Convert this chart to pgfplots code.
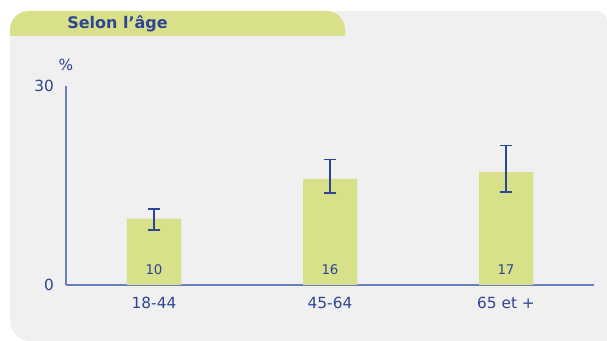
\documentclass[border=0pt]{standalone}
\usepackage{fontspec}
\setmainfont{DejaVu Sans}
\usepackage{pgfplots}
\pgfplotsset{compat=1.18}

\definecolor{bargreen}{HTML}{D8E08A}
\definecolor{txtblue}{HTML}{2D4594}
\definecolor{axblue}{HTML}{6A7FBF}
\definecolor{panel}{HTML}{F0F0F0}

\begin{document}
\begin{tikzpicture}
% background, in pixel units of the reference (y downwards)
\begin{scope}[x=0.75pt, y=-0.75pt]
  \path[use as bounding box, fill=white] (0,0) rectangle (607,341);
  \fill[panel] (10,30) [rounded corners=15pt] -- (10,341) [sharp corners] -- (607,341) [rounded corners=8pt] -- (607,11) [sharp corners] -- (200,11) -- (200,30) -- cycle;
  \fill[bargreen] (10,36) [rounded corners=14pt] -- (10,11) -- (345,11) [sharp corners] -- (345,36) -- cycle;
  \node[anchor=base west, inner sep=0pt, text=txtblue, font=\fontsize{12}{14}\selectfont\bfseries] at (67,29) {Selon l’âge};
\end{scope}

\begin{axis}[
    at={(49.5pt,-213.75pt)}, anchor=south west,
    scale only axis,
    width=396pt, height=149.25pt,
    xmin=-0.5, xmax=2.5,
    ymin=0, ymax=30,
    axis x line=bottom, axis y line=left,
    axis line style={-, axblue, line width=0.9pt},
    xtick=data,
    xticklabels={18-44, 45-64, 65 et +},
    ytick={0,30},
    major tick length=0pt,
    tick label style={text=txtblue, font=\fontsize{11.5}{13}\selectfont},
    /pgf/number format/assume math mode=true,
    xticklabel style={yshift=-5.5pt},
    yticklabel style={xshift=-5.5pt},
    clip=false,
]
\addplot[ybar, bar width=40.5pt, fill=bargreen, draw=none,
    error bars/.cd, y dir=both, y explicit,
    error bar style={txtblue, line width=1.4pt},
    error mark options={rotate=90, mark size=4.75pt, txtblue, line width=1.2pt}]
  coordinates {
    (0,10) += (0,1.5) -= (0,1.7)
    (1,16) += (0,2.9) -= (0,2.1)
    (2,17) += (0,4.0) -= (0,3.0)
};
\addplot[draw=none, mark=none, nodes near coords, point meta=explicit symbolic,
    every node near coord/.style={anchor=center, text=txtblue, font=\fontsize{10}{12}\selectfont}]
  coordinates {
    (0,2.3) [10]
    (1,2.3) [16]
    (2,2.3) [17]
};
\node[anchor=south, text=txtblue, font=\fontsize{11.5}{13}\selectfont, inner sep=0pt] at (axis description cs:0,1) [yshift=11pt] {\%};
\end{axis}
\end{tikzpicture}
\end{document}
